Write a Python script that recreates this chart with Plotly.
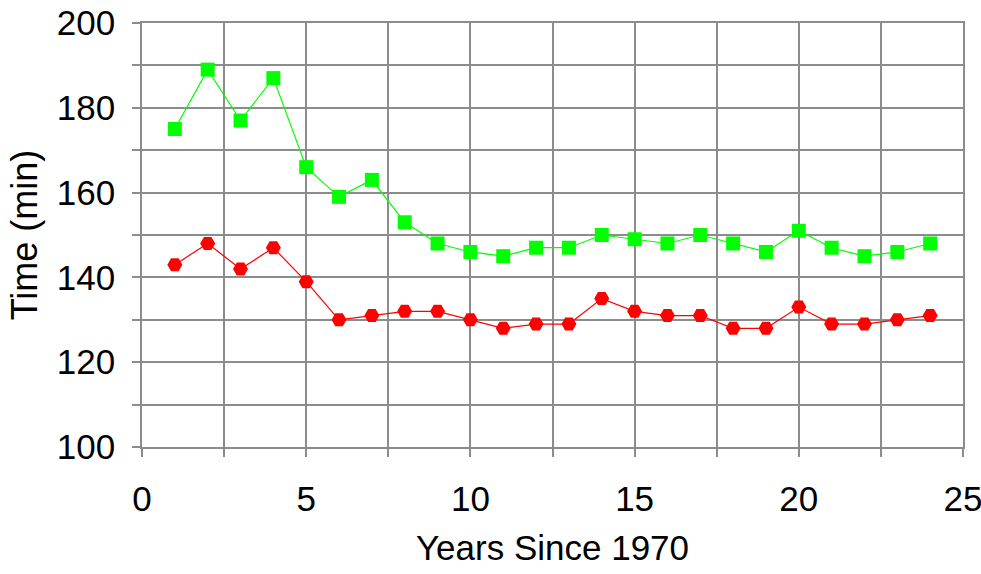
import plotly.graph_objects as go

years = list(range(1, 25))
green_times = [175, 189, 177, 187, 166, 159, 163, 153, 148, 146, 145, 147,
               147, 150, 149, 148, 150, 148, 146, 151, 147, 145, 146, 148]
red_times = [143, 148, 142, 147, 139, 130, 131, 132, 132, 130, 128, 129,
             129, 135, 132, 131, 131, 128, 128, 133, 129, 129, 130, 131]

x_ticks = [0, 5, 10, 15, 20, 25]
y_ticks = [100, 120, 140, 160, 180, 200]

GRID = "#8c8c8c"
FONT = "Arial, Liberation Sans, sans-serif"

fig = go.Figure()
fig.add_trace(go.Scatter(
    x=years, y=green_times, mode="lines+markers",
    line=dict(color="#00ff00", width=1.2),
    marker=dict(symbol="square", size=14, color="#00ff00"),
    showlegend=False,
))
fig.add_trace(go.Scatter(
    x=years, y=red_times, mode="lines+markers",
    line=dict(color="#ff0000", width=1.2),
    marker=dict(symbol="hexagon2", size=15, color="#ff0000"),
    showlegend=False,
))

fig.update_layout(
    width=981, height=574,
    margin=dict(l=142, r=18, t=23, b=127),
    paper_bgcolor="white", plot_bgcolor="white",
    font=dict(family=FONT, color="black"),
)
fig.update_xaxes(
    range=[0, 25], tickvals=x_ticks, ticktext=[str(v) for v in x_ticks],
    showgrid=True, gridcolor=GRID, gridwidth=1.5,
    ticks="outside", ticklen=8, tickcolor=GRID, tickwidth=1.5,
    minor=dict(dtick=2.5, showgrid=True, gridcolor=GRID, gridwidth=1.5,
               ticks="outside", ticklen=8, tickcolor=GRID, tickwidth=1.5),
    showline=True, linecolor=GRID, linewidth=1.5, mirror=True,
    zeroline=False,
    tickfont=dict(size=35), ticklabelstandoff=12, ticklabeloverflow="allow",
    title=dict(text="Years Since 1970", font=dict(size=35), standoff=19),
    automargin=False,
)
fig.update_yaxes(
    range=[100, 200], tickvals=y_ticks, ticktext=[str(v) for v in y_ticks],
    showgrid=True, gridcolor=GRID, gridwidth=1.5,
    ticks="outside", ticklen=8, tickcolor=GRID, tickwidth=1.5,
    minor=dict(dtick=10, showgrid=True, gridcolor=GRID, gridwidth=1.5,
               ticks="outside", ticklen=8, tickcolor=GRID, tickwidth=1.5),
    showline=True, linecolor=GRID, linewidth=1.5, mirror=True,
    zeroline=False,
    tickfont=dict(size=35), ticklabelstandoff=10, ticklabeloverflow="allow",
    title=dict(text="Time (min)", font=dict(size=36), standoff=8),
    automargin=False,
)

fig.write_html("out.html", config={"displayModeBar": False},
               post_script="document.body.style.margin='0';")
